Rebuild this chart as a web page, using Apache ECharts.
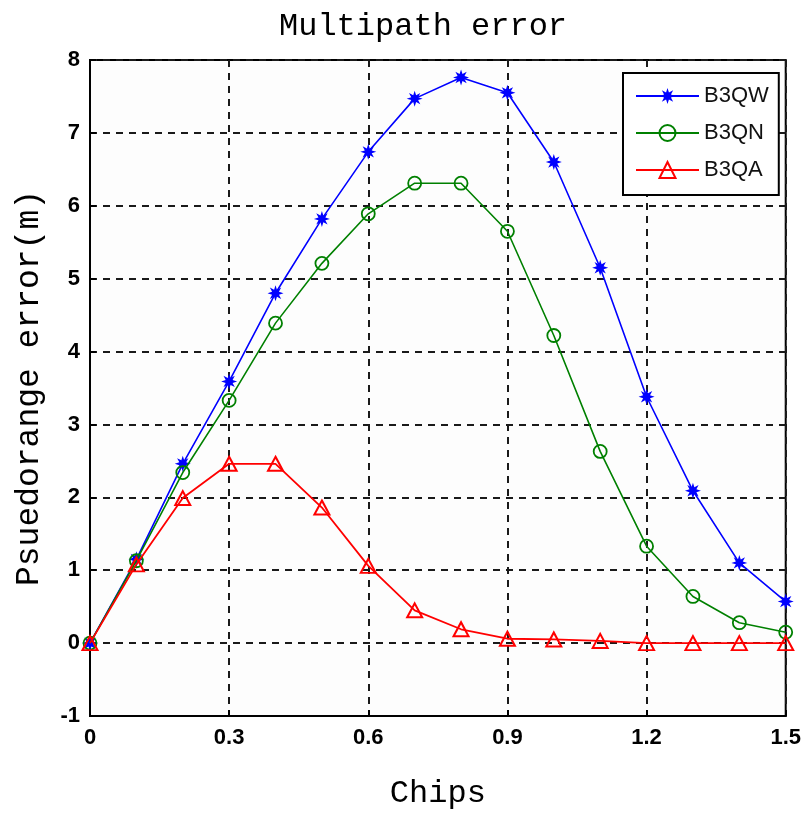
<!DOCTYPE html>
<html>
<head>
<meta charset="utf-8">
<title>Multipath error</title>
<script src="https://cdn.jsdelivr.net/npm/echarts@6/dist/echarts.min.js"></script>
<style>
  html, body { margin: 0; padding: 0; background: #ffffff; }
  #chart { width: 804px; height: 817px; }
</style>
</head>
<body>
<div id="chart"></div>
<script>
// Code delay in chips
const chips = [0, 0.1, 0.2, 0.3, 0.4, 0.5, 0.6, 0.7, 0.8, 0.9, 1.0, 1.1, 1.2, 1.3, 1.4, 1.5];

// Pseudorange multipath error envelope (m) for each B3 signal component
const b3qw = [0, 1.15, 2.46, 3.59, 4.80, 5.82, 6.74, 7.47, 7.76, 7.55, 6.60, 5.15, 3.38, 2.09, 1.10, 0.57];
const b3qn = [0, 1.13, 2.34, 3.33, 4.39, 5.21, 5.89, 6.31, 6.31, 5.65, 4.22, 2.63, 1.33, 0.64, 0.28, 0.15];
const b3qa = [0, 1.08, 1.99, 2.46, 2.46, 1.86, 1.06, 0.45, 0.19, 0.06, 0.05, 0.03, 0, 0, 0, 0];

const seriesNames = ['B3QW', 'B3QN', 'B3QA'];

const pairs = ys => chips.map((x, i) => [x, ys[i]]);

// eight-pointed star used as the asterisk marker
const starPath = 'path://M0,-10 L1.8,-4.3 L7.07,-7.07 L4.3,-1.8 L10,0 L4.3,1.8 L7.07,7.07 L1.8,4.3 L0,10 L-1.8,4.3 L-7.07,7.07 L-4.3,1.8 L-10,0 L-4.3,-1.8 L-7.07,-7.07 L-1.8,-4.3 Z';

const monoFont = '"Liberation Mono", "DejaVu Sans Mono", monospace';
const tickFont = '"Liberation Sans", Arial, sans-serif';

const chart = echarts.init(document.getElementById('chart'), null, { renderer: 'canvas' });

const gridLine = { show: true, lineStyle: { color: '#1a1a1a', width: 2, type: [7, 6] } };

chart.setOption({
  backgroundColor: '#ffffff',
  animation: false,
  title: {
    text: 'Multipath error',
    left: 274,
    top: 6,
    textStyle: { fontFamily: monoFont, fontSize: 32, fontWeight: 'normal', color: '#000' }
  },
  grid: {
    left: 90, right: 13, top: 60, bottom: 101,
    show: true, borderColor: '#000', borderWidth: 2, backgroundColor: '#fdfdfd'
  },
  legend: {
    orient: 'vertical',
    left: 623,
    top: 73,
    data: seriesNames,
    itemWidth: 63,
    itemHeight: 20,
    itemGap: 15,
    padding: [12, 10, 14, 12],
    borderColor: '#000',
    borderWidth: 2,
    backgroundColor: '#ffffff',
    textStyle: { fontFamily: tickFont, fontSize: 22, color: '#111', lineHeight: 20 }
  },
  xAxis: {
    type: 'value',
    min: 0, max: 1.5, interval: 0.3,
    name: 'Chips',
    nameLocation: 'middle',
    nameGap: 62,
    nameTextStyle: { fontFamily: monoFont, fontSize: 32, color: '#000' },
    axisLine: { show: true, onZero: false, lineStyle: { color: '#000', width: 2 } },
    axisTick: { show: true, inside: true, length: 6, lineStyle: { color: '#000', width: 2 } },
    axisLabel: {
      margin: 11,
      fontFamily: tickFont, fontSize: 22, fontWeight: 'bold', color: '#000',
      formatter: v => String(+v.toFixed(1))
    },
    splitLine: gridLine
  },
  yAxis: {
    type: 'value',
    min: -1, max: 8, interval: 1,
    name: 'Psuedorange error(m)',
    nameLocation: 'middle',
    nameGap: 44,
    nameTextStyle: { fontFamily: monoFont, fontSize: 33, color: '#000' },
    axisLine: { show: true, onZero: false, lineStyle: { color: '#000', width: 2 } },
    axisTick: { show: true, inside: true, length: 6, lineStyle: { color: '#000', width: 2 } },
    axisLabel: {
      margin: 10,
      fontFamily: tickFont, fontSize: 22, fontWeight: 'bold', color: '#000'
    },
    splitLine: gridLine
  },
  series: [
    {
      name: seriesNames[0],
      type: 'line',
      data: pairs(b3qw),
      symbol: starPath,
      symbolSize: 16,
      showAllSymbol: true,
      lineStyle: { color: '#0000ff', width: 1.6 },
      itemStyle: { color: '#0000ff', borderWidth: 0 },
      z: 3
    },
    {
      name: seriesNames[1],
      type: 'line',
      data: pairs(b3qn),
      symbol: 'circle',
      symbolSize: 13,
      showAllSymbol: true,
      lineStyle: { color: '#008000', width: 1.6 },
      itemStyle: { color: 'rgba(0,0,0,0)', borderColor: '#008000', borderWidth: 1.8 },
      z: 4
    },
    {
      name: seriesNames[2],
      type: 'line',
      data: pairs(b3qa),
      symbol: 'triangle',
      symbolSize: [15, 14],
      showAllSymbol: true,
      lineStyle: { color: '#ff0000', width: 1.8 },
      itemStyle: { color: 'rgba(0,0,0,0)', borderColor: '#ff0000', borderWidth: 2 },
      z: 5
    }
  ]
});
</script>
</body>
</html>
